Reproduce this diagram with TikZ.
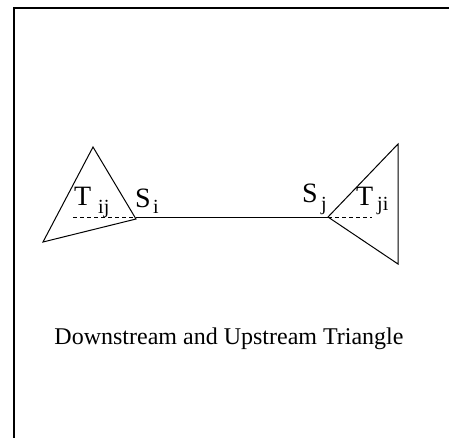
\documentclass[tikz,border=0pt]{standalone}
\usepackage{fontspec}
\setmainfont{Liberation Serif}
\usepackage{tikz}
\usetikzlibrary{positioning}
\tikzset{
  edge/.style  ={line width=1pt, draw=black},
  guide/.style ={line width=.9pt, dash pattern=on 4pt off 3pt},
  frame/.style ={line width=2.2pt, draw=black},
  sym/.style   ={anchor=base west, inner sep=0pt, font=\fontsize{28}{28}\selectfont},
  sub/.style   ={anchor=base west, inner sep=0pt, font=\fontsize{20}{20}\selectfont},
  caption/.style ={anchor=base, inner sep=0pt, font=\fontsize{24}{28}\selectfont},
}
\begin{document}
\begin{tikzpicture}[x=1pt,y=-1pt]
  \useasboundingbox (0,0) rectangle (449,437);
  % frame, cut at right and bottom
  \draw[frame] (14,440) -- (14,8) -- (452,8);
  % corner points
  \coordinate (la) at (93,147);
  \coordinate (lb) at (43,242);
  \coordinate (si) at (136,219);
  \coordinate (sj) at (328,217);
  \coordinate (ra) at (398,144);
  \coordinate (rb) at (398,264);
  \coordinate (ld) at (73,217);
  \coordinate (rd) at (372,217);
  % triangles and link
  \draw[edge] (la) -- (lb) -- (si) -- cycle;
  \draw[edge] (sj) -- (ra) -- (rb) -- cycle;
  \draw[edge] (136,217) -- (sj);
  \draw[guide] (ld) -- (136,217);
  \draw[guide] (sj) -- (rd);
  % labels
  \node[sym] (tij) at (74,205) {T};
  \node[sub] (tijs) at (98,213) {ij};
  \node[sym] (si1) at (135,207) {S};
  \node[sub] (si1s) at (153,213) {i};
  \node[sym] (sj1) at (302,202) {S};
  \node[sub] (sj1s) at (321,210) {j};
  \node[sym] (tji) at (356,205) {T};
  \node[sub] (tjis) at (377,210) {ji};
  \node[caption] (title) at (229,344) {Downstream and Upstream Triangle};
\end{tikzpicture}
\end{document}
